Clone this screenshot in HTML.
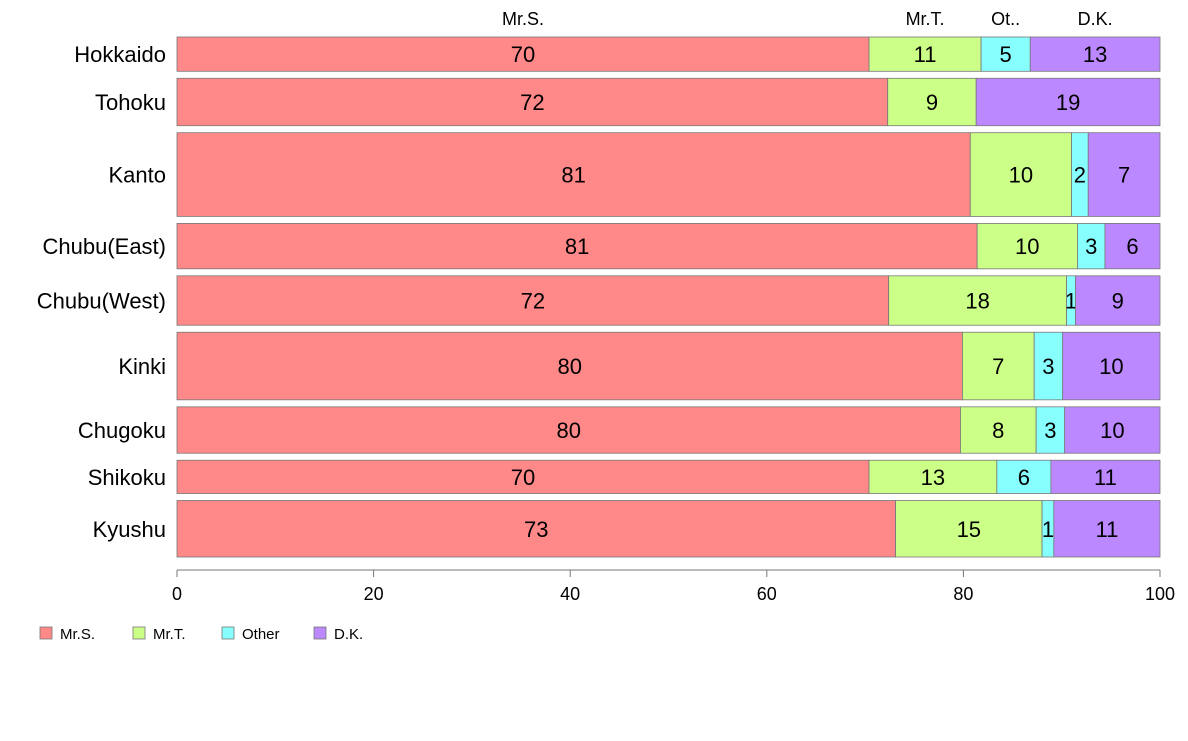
<!DOCTYPE html>
<html><head><meta charset="utf-8"><style>
body{margin:0;background:#fff;font-family:"Liberation Sans",sans-serif;}
</style></head><body>
<svg id="chart" width="1188" height="736" viewBox="0 0 1188 736" xmlns="http://www.w3.org/2000/svg" font-family="Liberation Sans, sans-serif"></svg>
<script>
const regions=["Hokkaido","Tohoku","Kanto","Chubu(East)","Chubu(West)","Kinki","Chugoku","Shikoku","Kyushu"];
const rowWeights=[34,47,83,45,49,67,46,33,56];
const seriesNames=["Mr.S.","Mr.T.","Other","D.K."];
const topLabels=["Mr.S.","Mr.T.","Ot..","D.K."];
const mrS=[70.4,72.3,80.7,81.4,72.4,79.9,79.7,70.4,73.1];
const mrT=[11.4,9.0,10.3,10.2,18.1,7.3,7.7,13.0,14.9];
const other=[5.0,0,1.7,2.8,0.9,2.9,2.9,5.5,1.2];
const dk=[13.2,18.7,7.3,5.6,8.6,9.9,9.7,11.1,10.8];
const xTicks=[0,20,40,60,80,100];
const colors=["#FF8888","#CCFF88","#88FFFF","#BB88FF"];
const svg=document.getElementById('chart');
const NS="http://www.w3.org/2000/svg";
function mk(t,a,txt){const e=document.createElementNS(NS,t);for(const k in a)e.setAttribute(k,a[k]);if(txt!==undefined)e.textContent=txt;svg.appendChild(e);return e;}
const x0=177,x1=1160,yTop=37,yBot=557,gap=7;
const X=v=>x0+(v/100)*(x1-x0);
const totalW=rowWeights.reduce((a,b)=>a+b,0);
const unit=(yBot-yTop-gap*(regions.length-1))/totalW;
const series=[mrS,mrT,other,dk];
let y=yTop;
regions.forEach((r,i)=>{
  const h=rowWeights[i]*unit;
  let cum=0;
  series.forEach((s,j)=>{
    const v=s[i];
    const rect=mk('rect',{x:X(cum),y:y,width:X(cum+v)-X(cum),height:h,fill:colors[j],stroke:'#777','stroke-width':0.8});
    
    
    if(v>0.5){
      const t=mk('text',{x:(X(cum)+X(cum+v))/2,y:y+h/2+8,'font-size':22,'text-anchor':'middle',fill:'#000'},Math.round(v));
      
      
    }
    if(i===0){
      const tl=mk('text',{x:(X(cum)+X(cum+v))/2,y:25,'font-size':18,'text-anchor':'middle'},topLabels[j]);
      
      
    }
    cum+=v;
  });
  const rl=mk('text',{x:166,y:y+h/2+8,'font-size':22,'text-anchor':'end'},r);
  
  
  y+=h+gap;
});
const ax=mk('line',{x1:x0,y1:570,x2:x1,y2:570,stroke:'#777'});


xTicks.forEach(t=>{
  const tk=mk('line',{x1:X(t),y1:570,x2:X(t),y2:577,stroke:'#777'});
  
  
  const tl=mk('text',{x:X(t),y:600,'font-size':18,'text-anchor':'middle'},t);
  
  
});
const legX=[40,133,222,314];
seriesNames.forEach((n,j)=>{
  const sw=mk('rect',{x:legX[j],y:627,width:12,height:12,fill:colors[j],stroke:'#777','stroke-width':0.8});
  
  
  const lt=mk('text',{x:legX[j]+20,y:639,'font-size':15},n);
  
  
});
</script>
</body></html>
